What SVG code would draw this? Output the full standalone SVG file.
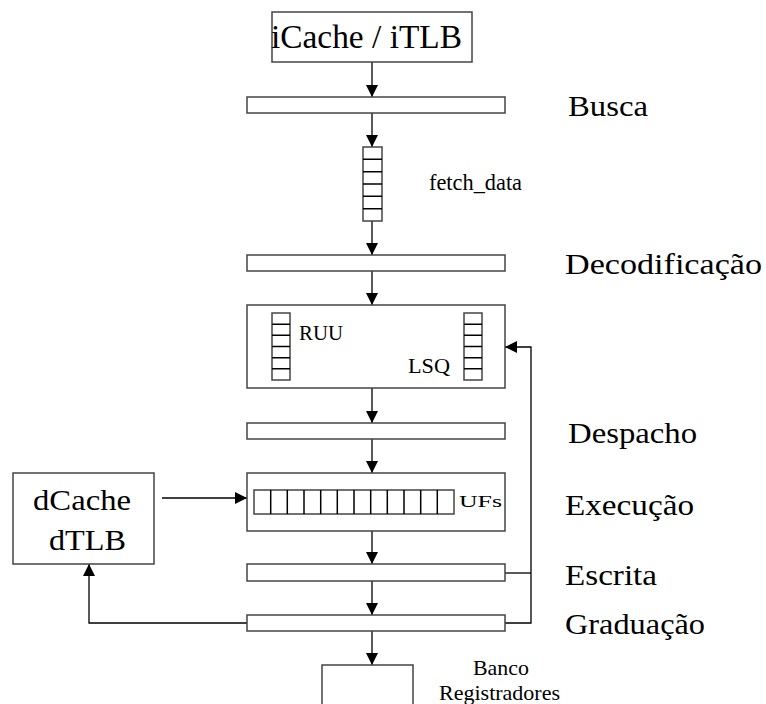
<svg xmlns="http://www.w3.org/2000/svg" width="766" height="704" viewBox="0 0 766 704">
<style>
.box{fill:#fff;stroke:#444;stroke-width:1.5}
.cell{fill:none;stroke:#000;stroke-width:1.5}
.wire{fill:none;stroke:#000;stroke-width:1.3}
.t{font-family:"Liberation Serif","Times New Roman",serif;fill:#000}
</style>
<defs>
<marker id="ah" markerUnits="userSpaceOnUse" markerWidth="12" markerHeight="12" refX="12" refY="6" orient="auto">
<path d="M0,0 L12,6 L0,12 Z" fill="#000"/>
</marker>
</defs>
<g id="connectors">
<line class="wire" x1="372" y1="62" x2="372" y2="97" marker-end="url(#ah)"/>
<line class="wire" x1="372" y1="113" x2="372" y2="147" marker-end="url(#ah)"/>
<line class="wire" x1="372" y1="221" x2="372" y2="255" marker-end="url(#ah)"/>
<line class="wire" x1="372" y1="271" x2="372" y2="305" marker-end="url(#ah)"/>
<line class="wire" x1="372" y1="388" x2="372" y2="423" marker-end="url(#ah)"/>
<line class="wire" x1="372" y1="439" x2="372" y2="473" marker-end="url(#ah)"/>
<line class="wire" x1="372" y1="531" x2="372" y2="564" marker-end="url(#ah)"/>
<line class="wire" x1="372" y1="581" x2="372" y2="615" marker-end="url(#ah)"/>
<line class="wire" x1="372" y1="631" x2="372" y2="665" marker-end="url(#ah)"/>
<polyline class="wire" points="505,573 531,573"/>
<polyline class="wire" points="505,623 531,623 531,347 505,347" marker-end="url(#ah)"/>
<line class="wire" x1="162" y1="498" x2="247" y2="498" marker-end="url(#ah)"/>
<polyline class="wire" points="247,623 89,623 89,564" marker-end="url(#ah)"/>
</g>
<g id="icache">
<rect class="box" x="272" y="12" width="200" height="50"/>
<text class="t" x="271" y="48" font-size="33" textLength="191" lengthAdjust="spacingAndGlyphs">iCache / iTLB</text>
</g>
<g id="busca">
<rect class="box" x="247" y="97" width="258" height="16"/>
<text class="t" x="568" y="116" font-size="29" textLength="80" lengthAdjust="spacingAndGlyphs">Busca</text>
</g>
<g id="fetch">
<rect class="box" x="363" y="147" width="19" height="74"/>
<path class="cell" d="M363,159.3H382M363,171.7H382M363,184H382M363,196.3H382M363,208.7H382"/>
<text class="t" x="429" y="190" font-size="24" textLength="93" lengthAdjust="spacingAndGlyphs">fetch_data</text>
</g>
<g id="decod">
<rect class="box" x="247" y="255" width="258" height="16"/>
<text class="t" x="565" y="274" font-size="30" textLength="197" lengthAdjust="spacingAndGlyphs">Decodificação</text>
</g>
<g id="ruu">
<rect class="box" x="247" y="305" width="258" height="83"/>
<rect class="box" x="272" y="313" width="18" height="67"/>
<path class="cell" d="M272,324.2H290M272,335.3H290M272,346.5H290M272,357.7H290M272,368.8H290"/>
<rect class="box" x="464" y="313" width="18" height="67"/>
<path class="cell" d="M464,324.2H482M464,335.3H482M464,346.5H482M464,357.7H482M464,368.8H482"/>
<text class="t" x="299" y="340" font-size="22" textLength="44" lengthAdjust="spacingAndGlyphs">RUU</text>
<text class="t" x="408" y="373" font-size="22" textLength="42" lengthAdjust="spacingAndGlyphs">LSQ</text>
</g>
<g id="despacho">
<rect class="box" x="247" y="423" width="258" height="16"/>
<text class="t" x="568" y="443" font-size="30" textLength="129" lengthAdjust="spacingAndGlyphs">Despacho</text>
</g>
<g id="ufs">
<rect class="box" x="247" y="473" width="258" height="58"/>
<rect class="box" x="254" y="490" width="200" height="24"/>
<path class="cell" d="M270.7,490V514M287.3,490V514M304,490V514M320.7,490V514M337.3,490V514M354,490V514M370.7,490V514M387.3,490V514M404,490V514M420.7,490V514M437.3,490V514"/>
<text class="t" x="459" y="507" font-size="17" textLength="43" lengthAdjust="spacingAndGlyphs">UFs</text>
<text class="t" x="565" y="515" font-size="30" textLength="129" lengthAdjust="spacingAndGlyphs">Execução</text>
</g>
<g id="dcache">
<rect class="box" x="13" y="473" width="141" height="91"/>
<text class="t" x="33" y="510" font-size="30" textLength="98" lengthAdjust="spacingAndGlyphs">dCache</text>
<text class="t" x="49" y="550" font-size="30" textLength="77" lengthAdjust="spacingAndGlyphs">dTLB</text>
</g>
<g id="escrita">
<rect class="box" x="247" y="564" width="258" height="17"/>
<text class="t" x="565" y="585" font-size="30" textLength="92" lengthAdjust="spacingAndGlyphs">Escrita</text>
</g>
<g id="graduacao">
<rect class="box" x="247" y="615" width="258" height="16"/>
<text class="t" x="565" y="634" font-size="30" textLength="140" lengthAdjust="spacingAndGlyphs">Graduação</text>
</g>
<g id="banco">
<rect class="box" x="322" y="665" width="91" height="50"/>
<text class="t" x="473" y="675" font-size="22" textLength="56" lengthAdjust="spacingAndGlyphs">Banco</text>
<text class="t" x="439" y="700" font-size="22" textLength="121" lengthAdjust="spacingAndGlyphs">Registradores</text>
</g>
</svg>
